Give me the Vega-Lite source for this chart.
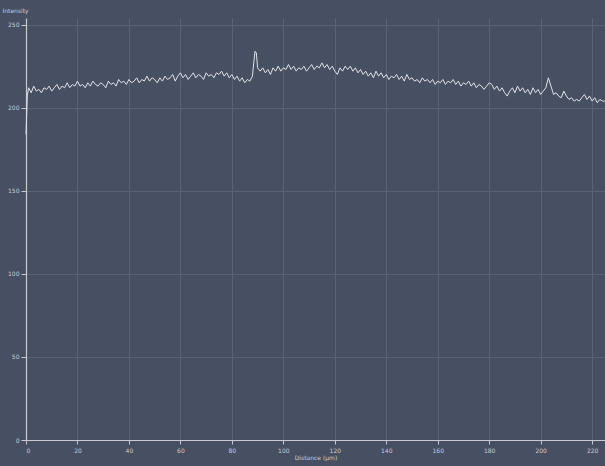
{
  "$schema": "https://vega.github.io/schema/vega-lite/v6.json",
  "width": 579,
  "height": 422,
  "autosize": {"type": "none"},
  "padding": {"left": 26, "top": 18, "right": 0, "bottom": 26},
  "background": "#474f63",
  "config": {
    "view": {"stroke": null, "fill": "#474f63"},
    "axis": {
      "labelFont": "DejaVu Sans",
      "titleFont": "DejaVu Sans",
      "labelFontSize": 6,
      "titleFontSize": 6,
      "titleFontWeight": "normal",
      "labelColor": "#c9ccd3",
      "titleColor": "#c9ccd3",
      "gridColor": "#5a6275",
      "gridWidth": 1,
      "domainColor": "#c8cad0",
      "domainWidth": 1.2,
      "tickColor": "#c8cad0"
    }
  },
  "data": {"values": [
    {"d":0,"i":184},{"d":0.5,"i":207},{"d":1,"i":212},{"d":2,"i":209},{"d":3,"i":213},{"d":4,"i":210},{"d":5,"i":211},{"d":6,"i":209},{"d":7,"i":212},{"d":8,"i":211},{"d":9,"i":213},
    {"d":10,"i":210},{"d":11,"i":212},{"d":12,"i":214},{"d":13,"i":211},{"d":14,"i":213},{"d":15,"i":212},{"d":16,"i":215},{"d":17,"i":212},{"d":18,"i":214},{"d":19,"i":213},
    {"d":20,"i":216},{"d":21,"i":213},{"d":22,"i":214},{"d":23,"i":212},{"d":24,"i":215},{"d":25,"i":213},{"d":26,"i":216},{"d":27,"i":214},{"d":28,"i":213},{"d":29,"i":215},
    {"d":30,"i":214},{"d":31,"i":212},{"d":32,"i":216},{"d":33,"i":214},{"d":34,"i":215},{"d":35,"i":213},{"d":36,"i":217},{"d":37,"i":215},{"d":38,"i":216},{"d":39,"i":214},
    {"d":40,"i":217},{"d":41,"i":215},{"d":42,"i":216},{"d":43,"i":218},{"d":44,"i":215},{"d":45,"i":217},{"d":46,"i":216},{"d":47,"i":219},{"d":48,"i":216},{"d":49,"i":218},
    {"d":50,"i":217},{"d":51,"i":215},{"d":52,"i":218},{"d":53,"i":216},{"d":54,"i":219},{"d":55,"i":217},{"d":56,"i":218},{"d":57,"i":220},{"d":58,"i":216},{"d":59,"i":219},
    {"d":60,"i":221},{"d":61,"i":218},{"d":62,"i":220},{"d":63,"i":217},{"d":64,"i":219},{"d":65,"i":221},{"d":66,"i":218},{"d":67,"i":220},{"d":68,"i":219},{"d":69,"i":217},
    {"d":70,"i":221},{"d":71,"i":219},{"d":72,"i":220},{"d":73,"i":218},{"d":74,"i":221},{"d":75,"i":220},{"d":76,"i":222},{"d":77,"i":219},{"d":78,"i":221},{"d":79,"i":218},
    {"d":80,"i":220},{"d":81,"i":217},{"d":82,"i":219},{"d":83,"i":216},{"d":84,"i":218},{"d":85,"i":215},{"d":86,"i":217},{"d":87,"i":216},{"d":88,"i":219},{"d":88.5,"i":227},
    {"d":89,"i":234},{"d":89.5,"i":233},{"d":90,"i":224},{"d":91,"i":222},{"d":92,"i":224},{"d":93,"i":221},{"d":94,"i":223},{"d":95,"i":220},{"d":96,"i":224},{"d":97,"i":222},
    {"d":98,"i":225},{"d":99,"i":222},{"d":100,"i":224},{"d":101,"i":223},{"d":102,"i":226},{"d":103,"i":223},{"d":104,"i":225},{"d":105,"i":222},{"d":106,"i":224},{"d":107,"i":223},
    {"d":108,"i":225},{"d":109,"i":222},{"d":110,"i":224},{"d":111,"i":226},{"d":112,"i":223},{"d":113,"i":225},{"d":114,"i":224},{"d":115,"i":227},{"d":116,"i":224},{"d":117,"i":226},
    {"d":118,"i":223},{"d":119,"i":225},{"d":120,"i":222},{"d":121,"i":220},{"d":122,"i":224},{"d":123,"i":222},{"d":124,"i":225},{"d":125,"i":223},{"d":126,"i":225},{"d":127,"i":222},
    {"d":128,"i":224},{"d":129,"i":221},{"d":130,"i":223},{"d":131,"i":220},{"d":132,"i":222},{"d":133,"i":219},{"d":134,"i":221},{"d":135,"i":218},{"d":136,"i":222},{"d":137,"i":219},
    {"d":138,"i":221},{"d":139,"i":218},{"d":140,"i":220},{"d":141,"i":217},{"d":142,"i":219},{"d":143,"i":218},{"d":144,"i":220},{"d":145,"i":217},{"d":146,"i":219},{"d":147,"i":216},
    {"d":148,"i":220},{"d":149,"i":217},{"d":150,"i":218},{"d":151,"i":216},{"d":152,"i":217},{"d":153,"i":215},{"d":154,"i":218},{"d":155,"i":216},{"d":156,"i":217},{"d":157,"i":215},
    {"d":158,"i":217},{"d":159,"i":214},{"d":160,"i":216},{"d":161,"i":215},{"d":162,"i":217},{"d":163,"i":214},{"d":164,"i":216},{"d":165,"i":215},{"d":166,"i":217},{"d":167,"i":214},
    {"d":168,"i":216},{"d":169,"i":213},{"d":170,"i":215},{"d":171,"i":214},{"d":172,"i":216},{"d":173,"i":213},{"d":174,"i":215},{"d":175,"i":212},{"d":176,"i":214},{"d":177,"i":213},
    {"d":178,"i":211},{"d":179,"i":213},{"d":180,"i":215},{"d":181,"i":214},{"d":182,"i":211},{"d":183,"i":213},{"d":184,"i":210},{"d":185,"i":212},{"d":186,"i":209},{"d":187,"i":207},
    {"d":188,"i":210},{"d":189,"i":212},{"d":190,"i":209},{"d":191,"i":213},{"d":192,"i":210},{"d":193,"i":212},{"d":194,"i":209},{"d":195,"i":211},{"d":196,"i":208},{"d":197,"i":212},
    {"d":198,"i":209},{"d":199,"i":211},{"d":200,"i":208},{"d":201,"i":210},{"d":202,"i":212},{"d":203,"i":218},{"d":204,"i":213},{"d":205,"i":208},{"d":206,"i":209},{"d":207,"i":207},
    {"d":208,"i":206},{"d":209,"i":210},{"d":210,"i":207},{"d":211,"i":205},{"d":212,"i":206},{"d":213,"i":204},{"d":214,"i":205},{"d":215,"i":204},{"d":216,"i":206},{"d":217,"i":208},
    {"d":218,"i":205},{"d":219,"i":207},{"d":220,"i":204},{"d":221,"i":206},{"d":222,"i":203},{"d":223,"i":205},{"d":224,"i":204},{"d":225,"i":204}
  ]},
  "mark": {"type": "line", "color": "#e2e3e8", "strokeWidth": 1, "interpolate": "linear"},
  "encoding": {
    "x": {
      "field": "d", "type": "quantitative",
      "scale": {"domain": [0, 225], "nice": false, "zero": false},
      "axis": {
        "title": "Distance (µm)",
        "values": [0,20,40,60,80,100,120,140,160,180,200,220],
        "tickSize": 4, "labelPadding": 3, "titlePadding": 1, "domainWidth": 1.2
      }
    },
    "y": {
      "field": "i", "type": "quantitative",
      "scale": {"domain": [0, 254], "nice": false},
      "axis": {
        "title": "Intensity",
        "values": [0,50,100,150,200,250],
        "tickSize": 5, "labelPadding": 2,
        "titleAngle": 0, "titleAlign": "left", "titleBaseline": "top",
        "titleX": -24, "titleY": -11
      }
    }
  }
}
